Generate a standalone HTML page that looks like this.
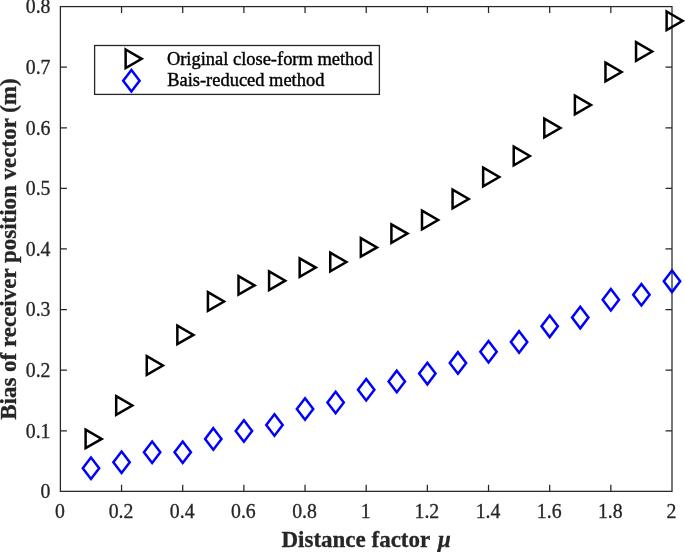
<!DOCTYPE html>
<html><head><meta charset="utf-8"><title>Bias of receiver position vector</title>
<style>html,body{margin:0;padding:0;background:#fff}svg{display:block}text{font-family:"Liberation Serif","Times New Roman",serif;fill:#262626;stroke:#262626;stroke-width:0.3}.tk{font-size:19.8px}.lb{font-size:23px;font-weight:bold}.lg{font-size:18.45px;fill:#000;stroke:#000;stroke-width:0.4}</style></head><body>
<svg width="685" height="552" viewBox="0 0 685 552">
<rect width="685" height="552" fill="#fff"/>
<g stroke="#262626" stroke-width="1.25" fill="none">
<rect x="60.40" y="6.60" width="611.60" height="484.75"/>
<path d="M121.56 491.35v-6.50M121.56 6.60v6.50"/>
<path d="M182.72 491.35v-6.50M182.72 6.60v6.50"/>
<path d="M243.88 491.35v-6.50M243.88 6.60v6.50"/>
<path d="M305.04 491.35v-6.50M305.04 6.60v6.50"/>
<path d="M366.20 491.35v-6.50M366.20 6.60v6.50"/>
<path d="M427.36 491.35v-6.50M427.36 6.60v6.50"/>
<path d="M488.52 491.35v-6.50M488.52 6.60v6.50"/>
<path d="M549.68 491.35v-6.50M549.68 6.60v6.50"/>
<path d="M610.84 491.35v-6.50M610.84 6.60v6.50"/>
<path d="M60.40 430.76h6.50M672.00 430.76h-6.50"/>
<path d="M60.40 370.16h6.50M672.00 370.16h-6.50"/>
<path d="M60.40 309.57h6.50M672.00 309.57h-6.50"/>
<path d="M60.40 248.98h6.50M672.00 248.98h-6.50"/>
<path d="M60.40 188.38h6.50M672.00 188.38h-6.50"/>
<path d="M60.40 127.79h6.50M672.00 127.79h-6.50"/>
<path d="M60.40 67.19h6.50M672.00 67.19h-6.50"/>
</g>
<text class="tk" transform="translate(59.90 518.20) scale(1 1.04)" text-anchor="middle">0</text>
<text class="tk" transform="translate(121.06 518.20) scale(1 1.04)" text-anchor="middle">0.2</text>
<text class="tk" transform="translate(182.22 518.20) scale(1 1.04)" text-anchor="middle">0.4</text>
<text class="tk" transform="translate(243.38 518.20) scale(1 1.04)" text-anchor="middle">0.6</text>
<text class="tk" transform="translate(304.54 518.20) scale(1 1.04)" text-anchor="middle">0.8</text>
<text class="tk" transform="translate(365.70 518.20) scale(1 1.04)" text-anchor="middle">1</text>
<text class="tk" transform="translate(426.86 518.20) scale(1 1.04)" text-anchor="middle">1.2</text>
<text class="tk" transform="translate(488.02 518.20) scale(1 1.04)" text-anchor="middle">1.4</text>
<text class="tk" transform="translate(549.18 518.20) scale(1 1.04)" text-anchor="middle">1.6</text>
<text class="tk" transform="translate(610.34 518.20) scale(1 1.04)" text-anchor="middle">1.8</text>
<text class="tk" transform="translate(671.50 518.20) scale(1 1.04)" text-anchor="middle">2</text>
<text class="tk" transform="translate(50.50 498.15) scale(1 1.04)" text-anchor="end">0</text>
<text class="tk" transform="translate(50.50 437.56) scale(1 1.04)" text-anchor="end">0.1</text>
<text class="tk" transform="translate(50.50 376.96) scale(1 1.04)" text-anchor="end">0.2</text>
<text class="tk" transform="translate(50.50 316.37) scale(1 1.04)" text-anchor="end">0.3</text>
<text class="tk" transform="translate(50.50 255.78) scale(1 1.04)" text-anchor="end">0.4</text>
<text class="tk" transform="translate(50.50 195.18) scale(1 1.04)" text-anchor="end">0.5</text>
<text class="tk" transform="translate(50.50 134.59) scale(1 1.04)" text-anchor="end">0.6</text>
<text class="tk" transform="translate(50.50 73.99) scale(1 1.04)" text-anchor="end">0.7</text>
<text class="tk" transform="translate(50.50 13.40) scale(1 1.04)" text-anchor="end">0.8</text>
<text class="lb" transform="translate(281.5 547.2) scale(1 1.03)">Distance factor<tspan dx="7.8" font-style="italic">μ</tspan></text>
<text class="lb" transform="translate(16.0 249.1) rotate(-90) scale(1 1.03)" text-anchor="middle">Bias of receiver position vector (m)</text>
<path d="M85.61 429.60L101.72 438.90L85.61 448.20ZM116.19 396.20L132.30 405.50L116.19 414.80ZM146.77 356.20L162.88 365.50L146.77 374.80ZM177.35 325.60L193.46 334.90L177.35 344.20ZM207.93 292.20L224.04 301.50L207.93 310.80ZM238.51 276.10L254.62 285.40L238.51 294.70ZM269.09 271.40L285.20 280.70L269.09 290.00ZM299.67 258.30L315.78 267.60L299.67 276.90ZM330.25 252.70L346.36 262.00L330.25 271.30ZM360.83 238.10L376.94 247.40L360.83 256.70ZM391.41 224.30L407.52 233.60L391.41 242.90ZM421.99 210.70L438.10 220.00L421.99 229.30ZM452.57 189.70L468.68 199.00L452.57 208.30ZM483.15 167.70L499.26 177.00L483.15 186.30ZM513.73 146.70L529.84 156.00L513.73 165.30ZM544.31 118.70L560.42 128.00L544.31 137.30ZM574.89 95.70L591.00 105.00L574.89 114.30ZM605.47 62.70L621.58 72.00L605.47 81.30ZM636.05 42.20L652.16 51.50L636.05 60.80ZM666.63 11.50L682.74 20.80L666.63 30.10Z" fill="none" stroke="#000" stroke-width="2.5" stroke-linejoin="miter"/>
<path d="M90.98 457.55L99.18 468.30L90.98 479.05L82.78 468.30ZM121.56 451.45L129.76 462.20L121.56 472.95L113.36 462.20ZM152.14 441.55L160.34 452.30L152.14 463.05L143.94 452.30ZM182.72 441.55L190.92 452.30L182.72 463.05L174.52 452.30ZM213.30 428.15L221.50 438.90L213.30 449.65L205.10 438.90ZM243.88 420.25L252.08 431.00L243.88 441.75L235.68 431.00ZM274.46 414.25L282.66 425.00L274.46 435.75L266.26 425.00ZM305.04 398.30L313.24 409.05L305.04 419.80L296.84 409.05ZM335.62 391.75L343.82 402.50L335.62 413.25L327.42 402.50ZM366.20 378.95L374.40 389.70L366.20 400.45L358.00 389.70ZM396.78 370.65L404.98 381.40L396.78 392.15L388.58 381.40ZM427.36 362.85L435.56 373.60L427.36 384.35L419.16 373.60ZM457.94 352.15L466.14 362.90L457.94 373.65L449.74 362.90ZM488.52 340.95L496.72 351.70L488.52 362.45L480.32 351.70ZM519.10 331.15L527.30 341.90L519.10 352.65L510.90 341.90ZM549.68 315.60L557.88 326.35L549.68 337.10L541.48 326.35ZM580.26 306.85L588.46 317.60L580.26 328.35L572.06 317.60ZM610.84 288.95L619.04 299.70L610.84 310.45L602.64 299.70ZM641.42 284.05L649.62 294.80L641.42 305.55L633.22 294.80ZM672.00 270.60L680.20 281.35L672.00 292.10L663.80 281.35Z" fill="none" stroke="#0000ff" stroke-width="2.5" stroke-linejoin="miter"/>
<rect x="94.6" y="45.5" width="284.8" height="48.9" fill="#fff" stroke="#262626" stroke-width="1.3"/>
<path d="M125.63 49.50L141.74 58.80L125.63 68.10Z" fill="none" stroke="#000" stroke-width="2.5"/>
<path d="M131.40 69.95L139.60 80.70L131.40 91.45L123.20 80.70Z" fill="none" stroke="#0000ff" stroke-width="2.5"/>
<text class="lg" transform="translate(166.9 65.1) scale(1 1.04)">Original close-form method</text>
<text class="lg" transform="translate(167.2 86.4) scale(1 1.04)">Bais-reduced method</text>
</svg></body></html>
